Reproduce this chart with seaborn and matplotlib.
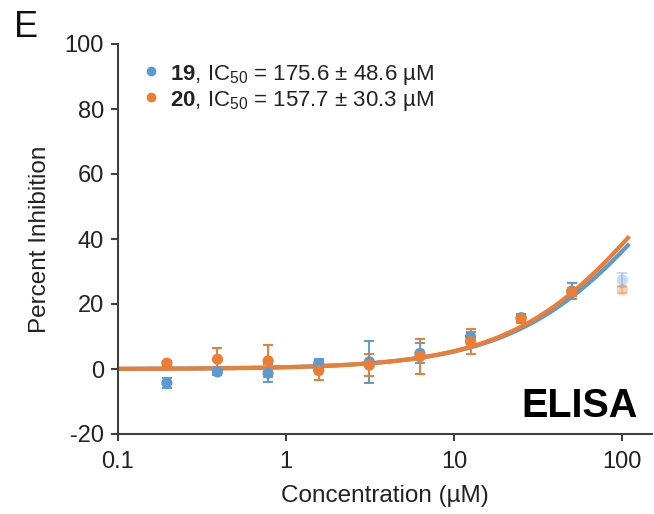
import numpy as np
import pandas as pd
import matplotlib
matplotlib.use("Agg")
import matplotlib.pyplot as plt
import seaborn as sns

# Inhibitor concentrations (µM), two-fold serial dilution
conc = [0.1953125, 0.390625, 0.78125, 1.5625, 3.125, 6.25, 12.5, 25.0, 50.0, 100.0]

# Compound 19
inh_19 = [-4.3, -0.9, -1.3, 1.7, 2.2, 4.8, 9.9, 15.8, 24.0, 27.4]
err_19 = [1.5, 0.8, 2.7, 1.5, 6.5, 3.1, 1.6, 1.0, 2.6, 2.0]

# Compound 20
inh_20 = [1.8, 3.0, 2.5, -0.5, 1.2, 3.8, 8.4, 15.5, 23.8, 24.3]
err_20 = [0.8, 3.4, 5.0, 2.9, 3.4, 5.4, 3.8, 1.2, 1.2, 1.0]

# Points excluded from the fit (drawn faded)
excluded = [False] * 9 + [True]

# Dose-response fit parameters
compounds = ["19", "20"]
ic50 = [175.6, 157.7]
ic50_sd = [48.6, 30.3]
hill = [1.0, 1.03]
colors = ["#5B9BD5", "#ED7D31"]

x_ticks = [0.1, 1, 10, 100]
x_ticklabels = ["0.1", "1", "10", "100"]
y_ticks = [-20, 0, 20, 40, 60, 80, 100]

sns.set_theme(style="white")
plt.rcParams["font.family"] = ["Liberation Sans", "DejaVu Sans"]
plt.rcParams["mathtext.fontset"] = "custom"
plt.rcParams["mathtext.rm"] = "Liberation Sans"
plt.rcParams["mathtext.bf"] = "Liberation Sans:bold"
plt.rcParams["mathtext.it"] = "Liberation Sans:italic"
plt.rcParams["axes.unicode_minus"] = False

W, H = 654, 514
fig = plt.figure(figsize=(W / 100, H / 100), dpi=100)
ax = fig.add_axes([118 / W, 80 / H, (652 - 118) / W, 390 / H])

# Fitted curves
xfit = np.logspace(-1, np.log10(110), 400)
for name, c50, h, col in zip(compounds, ic50, hill, colors):
    yfit = 100.0 / (1.0 + (c50 / xfit) ** h)
    sns.lineplot(x=xfit, y=yfit, ax=ax, color=col, lw=3.0, zorder=2,
                 solid_capstyle="butt")

# Data points with error bars
for name, yv, ev, col in zip(compounds, [inh_19, inh_20], [err_19, err_20], colors):
    df = pd.DataFrame({"conc": conc, "inh": yv, "err": ev, "excl": excluded})
    for excl, alpha in [(False, 1.0), (True, 0.35)]:
        sub = df[df["excl"] == excl]
        ax.errorbar(sub["conc"], sub["inh"], yerr=sub["err"], fmt="none",
                    ecolor=col, elinewidth=1.4, capsize=3.5, capthick=1.4,
                    alpha=alpha, zorder=3)
        sns.scatterplot(data=sub, x="conc", y="inh", ax=ax, color=col, s=65,
                        edgecolor="none", alpha=alpha, zorder=4, legend=False)

ax.set_xscale("log")
ax.set_xlim(0.1, 150)
ax.set_ylim(-20, 100)
ax.set_xticks(x_ticks)
ax.set_xticklabels(x_ticklabels)
ax.xaxis.set_minor_locator(matplotlib.ticker.NullLocator())
ax.set_yticks(y_ticks)

for side in ["top", "right"]:
    ax.spines[side].set_visible(False)
for side in ["left", "bottom"]:
    ax.spines[side].set_color("#404040")
    ax.spines[side].set_linewidth(1.5)

ax.tick_params(axis="both", which="major", direction="out", length=5,
               width=1.5, color="#404040", labelsize=17, labelcolor="#222222",
               left=True, bottom=True)
ax.tick_params(axis="x", pad=7)
ax.tick_params(axis="y", pad=5)

ax.set_xlabel("Concentration (µM)", fontsize=17.5, color="#222222", labelpad=9)
ax.set_ylabel("Percent Inhibition", fontsize=17.5, color="#222222", labelpad=10)

# Legend entries with IC50 values
for i, (name, c50, sd, col) in enumerate(zip(compounds, ic50, ic50_sd, colors)):
    base_y = 80 + 26 * i
    fig.text(170 / W, 1 - base_y / H,
             r"$\mathbf{" + name + r"}$, IC$_{50}$" + f" = {c50:.1f} ± {sd:.1f} µM",
             fontsize=16, color="#222222", ha="left", va="baseline")
    fig.add_artist(plt.Line2D([151 / W], [1 - (base_y - 9) / H], marker="o",
                              markersize=7, color=col, markeredgewidth=0,
                              linestyle="none"))

# Assay label and panel letter
fig.text(638 / W, 1 - 417 / H, "ELISA", fontsize=28.5, fontweight="bold",
         color="black", ha="right", va="baseline")
fig.text(14 / W, 1 - 37 / H, "E", fontsize=26, color="#111111",
         ha="left", va="baseline")

fig.savefig("out.png", dpi=100)
